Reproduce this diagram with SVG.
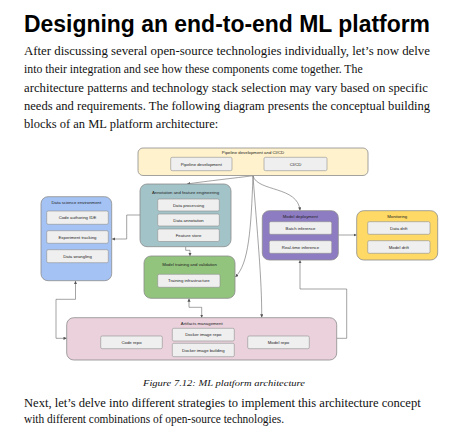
<svg xmlns="http://www.w3.org/2000/svg" width="460" height="448" viewBox="0 0 460 448">
<style>
.bg{fill:#ffffff}
.h1{font-family:"Liberation Sans",Arial,sans-serif;font-weight:bold;font-size:23px;fill:#000}
.body{font-family:"Liberation Serif","Times New Roman",serif;font-size:13px;fill:#111}
.cap{font-family:"Liberation Serif","Times New Roman",serif;font-style:italic;font-size:9px;fill:#111}
.outer{stroke:#8c8c8c;stroke-width:0.8}
.inner{fill:#efefef;stroke:#8f8f8f;stroke-width:0.6}
.lbl{font-family:"Liberation Sans",Arial,sans-serif;font-size:4.3px;fill:#222;text-anchor:middle}
.conn{fill:none;stroke:#666;stroke-width:0.6}
</style>
<defs>
<marker id="ah" viewBox="0 0 6 6" refX="6" refY="3" markerWidth="3.2" markerHeight="3.2" markerUnits="userSpaceOnUse" orient="auto-start-reverse">
<path d="M0,0 L6,3 L0,6 z" fill="#555"/>
</marker>
</defs>
<rect class="bg" x="0" y="0" width="460" height="448"/>
<text class="h1" x="24" y="31.7" textLength="406" lengthAdjust="spacingAndGlyphs">Designing an end-to-end ML platform</text>
<g id="intro">
<text class="body" x="24" y="55" textLength="406" lengthAdjust="spacingAndGlyphs">After discussing several open-source technologies individually, let’s now delve</text>
<text class="body" x="24" y="73.3" textLength="338.7" lengthAdjust="spacingAndGlyphs">into their integration and see how these components come together. The</text>
<text class="body" x="24" y="91.6" textLength="404" lengthAdjust="spacingAndGlyphs">architecture patterns and technology stack selection may vary based on specific</text>
<text class="body" x="24" y="110" textLength="406" lengthAdjust="spacingAndGlyphs">needs and requirements. The following diagram presents the conceptual building</text>
<text class="body" x="24" y="128.3" textLength="194.3" lengthAdjust="spacingAndGlyphs">blocks of an ML platform architecture:</text>
</g>

<g id="connectors">
<path class="conn" d="M253,175.7 C236,178 207,181 187,184" marker-end="url(#ah)"/>
<path class="conn" d="M253,176 C258,192 298,186 300,210.5" marker-end="url(#ah)"/>
<path class="conn" d="M253,176 C251,228 249,264 235.3,277" marker-end="url(#ah)"/>
<path class="conn" d="M253,176 C257,230 262,280 261.7,317.5" marker-end="url(#ah)"/>
<path class="conn" d="M140,215 L126.7,215 L126.7,239 L111.9,239" marker-end="url(#ah)"/>
<path class="conn" d="M185.7,246.7 L185.7,250.3 L190,250.3 L190,256" marker-end="url(#ah)"/>
<path class="conn" d="M189,298.5 L189,307.3 L201.7,307.3 L201.7,317.7" marker-start="url(#ah)" marker-end="url(#ah)"/>
<path class="conn" d="M75.5,280.9 L75.5,299.3 L56,299.3 L56,338.3 L66.7,338.3" marker-start="url(#ah)" marker-end="url(#ah)"/>
<path class="conn" d="M336.7,338.3 L346.7,338.3 L346.7,289 L300,289 L300,260.2" marker-end="url(#ah)"/>
<path class="conn" d="M338.3,235 L356.7,235" marker-end="url(#ah)"/>
</g>

<g id="pipeline">
<rect class="outer" x="138" y="148" width="230" height="27.5" rx="5" fill="#fff2cc"/>
<text class="lbl" x="253" y="154">Pipeline development and CI/CD</text>
<rect class="inner" x="170.7" y="157.3" width="61.3" height="13.4" rx="1.5"/>
<text class="lbl" x="201.3" y="165.5">Pipeline development</text>
<rect class="inner" x="264" y="157.3" width="63" height="13.4" rx="1.5"/>
<text class="lbl" x="295.5" y="165.5">CI/CD</text>
</g>

<g id="annotation">
<rect class="outer" x="140" y="184" width="91" height="62.7" rx="7" fill="#a2c4c9"/>
<text class="lbl" x="185.5" y="193.8">Annotation and feature engineering</text>
<rect class="inner" x="157.7" y="199" width="61.6" height="12" rx="1.5"/>
<text class="lbl" x="188.5" y="206.5">Data processing</text>
<rect class="inner" x="157.7" y="214" width="61.6" height="12" rx="1.5"/>
<text class="lbl" x="188.5" y="221.5">Data annotation</text>
<rect class="inner" x="157.7" y="229" width="61.6" height="12.5" rx="1.5"/>
<text class="lbl" x="188.5" y="236.7">Feature store</text>
</g>

<g id="datascience">
<rect class="outer" x="41" y="196.7" width="70.7" height="84" rx="7" fill="#a4c2f4"/>
<text class="lbl" x="76.3" y="204.2">Data science environment</text>
<rect class="inner" x="46.7" y="211" width="61.6" height="13.3" rx="1.5"/>
<text class="lbl" x="77.5" y="219.2">Code authoring IDE</text>
<rect class="inner" x="46.7" y="230.7" width="61.6" height="12.6" rx="1.5"/>
<text class="lbl" x="77.5" y="238.5">Experiment tracking</text>
<rect class="inner" x="46.7" y="249.7" width="61.6" height="13" rx="1.5"/>
<text class="lbl" x="77.5" y="257.7">Data wrangling</text>
</g>

<g id="training">
<rect class="outer" x="144" y="256" width="91" height="42.3" rx="7" fill="#93c47d"/>
<text class="lbl" x="189.5" y="265.8">Model training and validation</text>
<rect class="inner" x="157.7" y="274.3" width="62.3" height="13" rx="1.5"/>
<text class="lbl" x="188.8" y="282.3">Training infrastructure</text>
</g>

<g id="deployment">
<rect class="outer" x="262.3" y="210.7" width="76" height="49.3" rx="7" fill="#8e7cc3"/>
<text class="lbl" x="300.3" y="218.2">Model deployment</text>
<rect class="inner" x="269.3" y="221.7" width="62.4" height="12.6" rx="1.5"/>
<text class="lbl" x="300.5" y="229.5">Batch inference</text>
<rect class="inner" x="269.3" y="240.7" width="62.4" height="12.6" rx="1.5"/>
<text class="lbl" x="300.5" y="248.5">Real-time inference</text>
</g>

<g id="monitoring">
<rect class="outer" x="356.7" y="210.7" width="81" height="49.3" rx="7" fill="#ffd966"/>
<text class="lbl" x="397.2" y="218.2">Monitoring</text>
<rect class="inner" x="367.7" y="221.7" width="62.3" height="12.6" rx="1.5"/>
<text class="lbl" x="398.8" y="229.5">Data drift</text>
<rect class="inner" x="367.7" y="240.7" width="62.3" height="12.6" rx="1.5"/>
<text class="lbl" x="398.8" y="248.5">Model drift</text>
</g>

<g id="artifacts">
<rect class="outer" x="66.7" y="317.7" width="270" height="42.3" rx="7" fill="#ead1dc"/>
<text class="lbl" x="201.7" y="324.8">Artifacts management</text>
<rect class="inner" x="100.7" y="336" width="61.6" height="12.7" rx="1.5"/>
<text class="lbl" x="131.5" y="343.9">Code repo</text>
<rect class="inner" x="172.3" y="328.3" width="62" height="12.7" rx="1.5"/>
<text class="lbl" x="203.3" y="336.2">Docker image repo</text>
<rect class="inner" x="172.3" y="343.3" width="62" height="13.4" rx="1.5"/>
<text class="lbl" x="203.3" y="351.5">Docker image building</text>
<rect class="inner" x="247.7" y="336" width="61.6" height="12.7" rx="1.5"/>
<text class="lbl" x="278.5" y="343.9">Model repo</text>
</g>

<text class="cap" x="143" y="385.7" textLength="162" lengthAdjust="spacingAndGlyphs">Figure 7.12: ML platform architecture</text>
<g id="outro">
<text class="body" x="24" y="406.7" textLength="396.7" lengthAdjust="spacingAndGlyphs">Next, let’s delve into different strategies to implement this architecture concept</text>
<text class="body" x="24" y="423.3" textLength="260" lengthAdjust="spacingAndGlyphs">with different combinations of open-source technologies.</text>
</g>
</svg>
